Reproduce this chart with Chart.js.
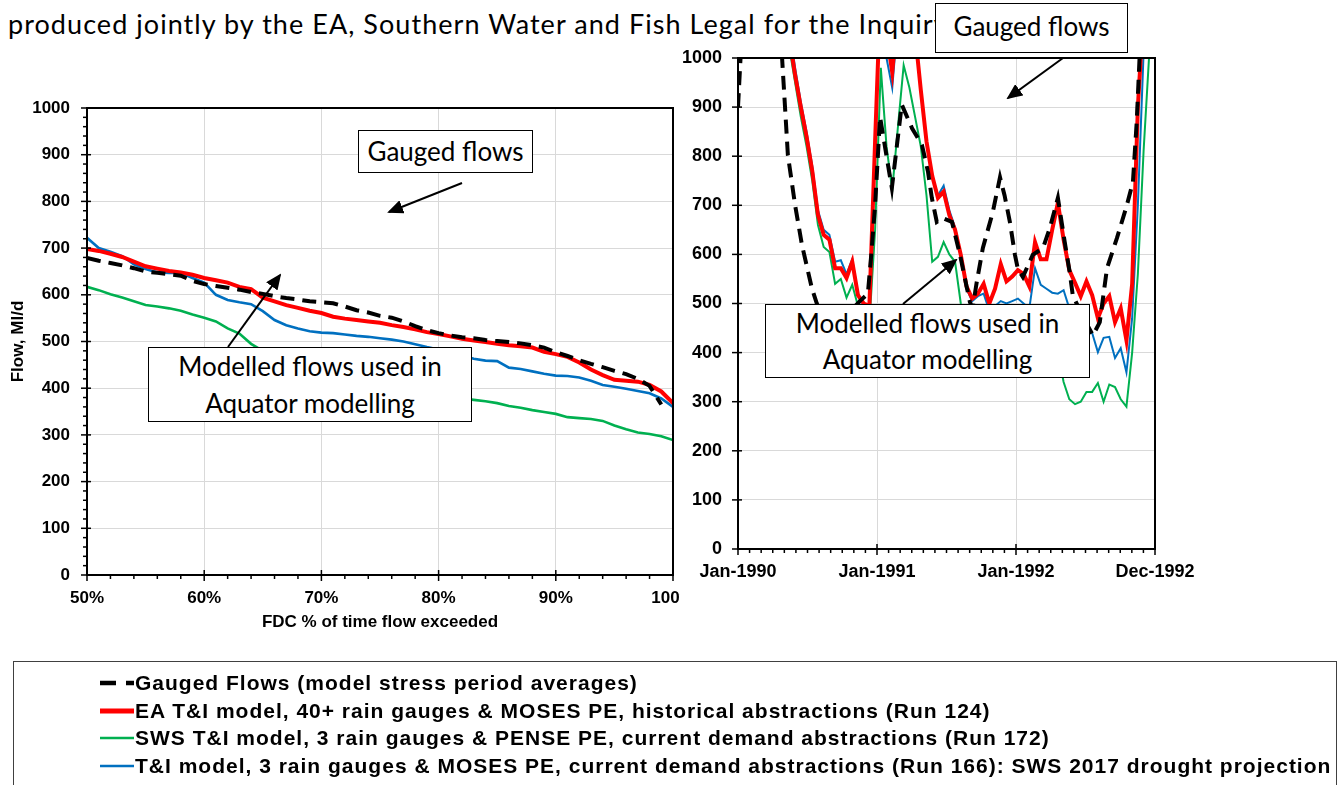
<!DOCTYPE html>
<html>
<head>
<meta charset="utf-8">
<title>Gauged vs modelled flows</title>
<script src="https://cdn.jsdelivr.net/npm/chart.js@4.4.1/dist/chart.umd.min.js"></script>
<style>
  html, body { margin: 0; padding: 0; background: #fff; }
  #page { position: relative; width: 1343px; height: 785px; overflow: hidden; font-family: Lato, "Open Sans", sans-serif; }
  #heading { position: absolute; left: 8px; top: 10px; font-size: 27px; letter-spacing: 1.05px; line-height: 1; white-space: nowrap; color: #000; }
  canvas { position: absolute; top: 0; }
  #fdc-chart { left: 0; }
  #ts-chart { left: 680px; }
  .note { position: absolute; box-sizing: border-box; background: #fff; border: 1.5px solid #000; font-size: 26px; text-align: center; color: #000; white-space: nowrap; }
  #arrows { position: absolute; left: 0; top: 0; pointer-events: none; }
  #legend { position: absolute; left: 13px; top: 661px; width: 1324px; height: 140px; box-sizing: border-box; border: 1px solid #404040; padding-top: 7px; font-family: "Liberation Sans", Arial, sans-serif; font-weight: bold; font-size: 21px; letter-spacing: 1px; }
  .legend-row { display: flex; align-items: center; height: 27.7px; padding-left: 86px; white-space: nowrap; }
  .legend-row svg { flex: none; margin-right: 1px; }
</style>
</head>
<body>
<div id="page">
  <div id="heading">produced jointly by the EA, Southern Water and Fish Legal for the Inquiry</div>
  <canvas id="fdc-chart" width="680" height="650"></canvas>
  <canvas id="ts-chart" width="520" height="650"></canvas>

  <svg id="arrows" width="1343" height="785">
    <defs>
      <marker id="head" markerWidth="8" markerHeight="7" refX="7" refY="3.5" orient="auto" markerUnits="strokeWidth">
        <polygon points="0 0, 8 3.5, 0 7" fill="#000"></polygon>
      </marker>
    </defs>
    <line x1="462" y1="183" x2="389" y2="212" stroke="#000" stroke-width="2" marker-end="url(#head)"></line>
    <line x1="228" y1="347" x2="280" y2="275" stroke="#000" stroke-width="2" marker-end="url(#head)"></line>
    <line x1="1063" y1="58" x2="1008" y2="98" stroke="#000" stroke-width="2" marker-end="url(#head)"></line>
    <line x1="903" y1="304" x2="956" y2="260" stroke="#000" stroke-width="2" marker-end="url(#head)"></line>
  </svg>

  <div class="note" style="left:358px; top:130px; width:175px; height:43px; line-height:40px;">Gauged flows</div>
  <div class="note" style="left:148px; top:347px; width:324px; height:75px; line-height:37px;">Modelled flows used in<br>Aquator modelling</div>
  <div class="note" style="left:935px; top:3px; width:193px; height:50px; line-height:44px;">Gauged flows</div>
  <div class="note" style="left:765px; top:304px; width:325px; height:74px; line-height:36px;">Modelled flows used in<br>Aquator modelling</div>

  <div id="legend"></div>
</div>

<script>
/* global Chart */

// Left: flow duration curve (50-100% exceedance). Right: 1990-92 flows.
// Both share the same four series and one legend box underneath.

const SERIES_LABELS = [
  "Gauged Flows (model stress period averages)",
  "EA T&I model, 40+ rain gauges & MOSES PE, historical abstractions (Run 124)",
  "SWS T&I model, 3 rain gauges & PENSE PE, current demand abstractions (Run 172)",
  "T&I model, 3 rain gauges & MOSES PE, current demand abstractions (Run 166): SWS 2017 drought projection",
];
const SERIES_COLORS = ["#000000", "#ff0000", "#00b050", "#0070c0"];
const SERIES_WIDTHS = [4, 4, 2.2, 2.2];
const GAUGED_DASH = [14, 8];

// --- Flow duration curve ---
const FDC_PERCENT = [
  50, 51, 52, 53, 54, 55, 56, 57, 58, 59,
  60, 61, 62, 63, 64, 65, 66, 67, 68, 69,
  70, 71, 72, 73, 74, 75, 76, 77, 78, 79,
  80, 81, 82, 83, 84, 85, 86, 87, 88, 89,
  90, 91, 92, 93, 94, 95, 96, 97, 98, 99,
  100,
];
const FDC_GAUGED = [
  679, 673, 668, 663, 657, 650, 647, 644, 641, 630,
  623, 619, 615, 611, 606, 602, 597, 593, 590, 586,
  584, 582, 575, 567, 562, 555, 551, 543, 533, 524,
  518, 513, 509, 507, 503, 501, 499, 496, 492, 487,
  477, 469, 460, 452, 445, 437, 430, 420, 405, 365,
  null,
];
const FDC_EA = [
  698, 694, 688, 681, 671, 661, 656, 651, 648, 643,
  636, 631, 626, 617, 612, 594, 586, 578, 572, 566,
  561, 553, 549, 546, 543, 540, 535, 531, 526, 520,
  516, 511, 506, 502, 499, 495, 492, 490, 487, 478,
  473, 467, 455, 440, 428, 418, 416, 414, 407, 393,
  368,
];
const FDC_SWS = [
  617, 610, 601, 594, 586, 578, 575, 571, 566, 558,
  551, 543, 528, 517, 495, 480, 468, 458, 450, 442,
  435, 428, 422, 416, 410, 405, 400, 396, 392, 388,
  384, 381, 378, 375, 372, 368, 362, 358, 353, 349,
  345, 338, 336, 334, 330, 320, 312, 305, 302, 297,
  289,
];
const FDC_TI = [
  722, 700, 692, 683, 665, 655, 648, 647, 647, 636,
  626, 600, 589, 584, 580, 565, 546, 535, 528, 522,
  519, 518, 515, 512, 510, 507, 504, 500, 494, 488,
  483, 477, 470, 463, 459, 458, 444, 441, 436, 431,
  427, 426, 423, 416, 407, 403, 399, 394, 389, 378,
  360,
];

// --- Time series, x in days from 1 Jan 1990 ---
const TS_TICK_LABELS = ["Jan-1990", "Jan-1991", "Jan-1992", "Dec-1992"];
const TS_GAUGED_DAYS = [
  0, 10, 60, 115, 131, 150, 168, 194, 207, 245, 290, 320, 341, 350, 360,
  373, 404, 430, 457, 483, 499, 509, 522, 538, 562, 570, 583, 601, 609,
  616, 627, 643, 669, 688, 700, 714, 727, 735, 748, 774, 801, 819, 840,
  858, 871, 879, 903, 932, 950, 969, 995, 1021, 1037, 1047, 1055, 1070,
];
const TS_GAUGED = [
  900, 1050, 1400, 1010, 802, 700, 619, 531, 500, 430, 480, 505, 520, 600, 700,
  880, 735, 905, 857, 823, 768, 715, 666, 674, 666, 640, 599, 532, 503,
  490, 544, 613, 686, 757, 720, 666, 600, 570, 554, 599, 613, 654, 715,
  625, 564, 517, 477, 435, 462, 572, 633, 700, 747, 870, 1010, 1300,
];
const TS_MODEL_DAYS = [
  0, 15, 30, 45, 60, 75, 90, 105, 120, 135, 150, 165, 180, 195, 210, 225,
  240, 255, 270, 285, 300, 315, 330, 345, 360, 375, 390, 405, 420, 435,
  450, 465, 480, 495, 510, 525, 540, 555, 570, 585, 600, 615, 630, 645,
  660, 675, 690, 705, 720, 735, 750, 765, 780, 795, 810, 825, 840, 855,
  870, 885, 900, 915, 930, 945, 960, 975, 990, 1005, 1020, 1035, 1050,
  1065, 1080, 1095,
];
const TS_EA = [
  1400, 1500, 1600, 1550, 1500, 1450, 1350, 1250, 1150, 1040, 965, 900, 840, 770, 680, 640,
  630, 572, 572, 552, 585, 517, 500, 495, 830, 1150, 1050, 971, 1100, 1200,
  1150, 1050, 935, 830, 760, 715, 728, 680, 650, 599, 535, 510, 520, 540,
  500, 530, 580, 545, 555, 568, 560, 535, 625, 590, 590, 650, 705, 630,
  568, 542, 515, 545, 517, 470, 500, 515, 462, 490, 425, 540, 900,
  1100, 1300, 1500,
];
const TS_SWS = [
  1300, 1400, 1500, 1450, 1400, 1350, 1250, 1150, 1080, 1020, 950, 880, 820, 750, 660, 615,
  605, 540, 550, 512, 538, 495, 470, 460, 650, 980, 820, 731, 860, 985,
  940, 880, 820, 720, 585, 595, 625, 600, 585, 500, 470, 455, 440, 450,
  430, 440, 440, 430, 440, 445, 435, 420, 460, 440, 430, 420, 400, 340,
  305, 295, 300, 320, 320, 338, 300, 335, 330, 305, 290, 400, 560,
  810, 1010, 1200,
];
const TS_TI = [
  1450, 1550, 1650, 1600, 1550, 1500, 1400, 1300, 1180, 1060, 980, 910, 850, 780, 690, 650,
  640, 585, 588, 560, 590, 520, 495, 490, 820, 1150, 1000, 939, 1080, 1200,
  1150, 1050, 935, 830, 760, 720, 740, 690, 655, 600, 530, 505, 515, 520,
  485, 495, 505, 500, 505, 510, 500, 490, 572, 538, 530, 522, 520, 527,
  490, 470, 460, 450, 440, 401, 430, 432, 389, 409, 360, 470, 700,
  1010, 1250, 1450,
];

Chart.defaults.font.family = "'Liberation Sans', Arial, sans-serif";
Chart.defaults.font.weight = "bold";
Chart.defaults.color = "#000";

const GRID_COLOR = "#d9d9d9";

function toPoints(xs, ys) {
  return xs
    .map((x, index) => ({ x, y: ys[index] }))
    .filter((point) => point.y !== null);
}

function makeDatasets(xsGauged, gauged, xsModel, ea, sws, ti, thinWidth) {
  // index 0 is drawn on top
  const series = [
    { data: toPoints(xsGauged, gauged), idx: 0 },
    { data: toPoints(xsModel, ea), idx: 1 },
    { data: toPoints(xsModel, ti), idx: 3 },
    { data: toPoints(xsModel, sws), idx: 2 },
  ];
  return series.map(({ data, idx }) => ({
    label: SERIES_LABELS[idx],
    data,
    borderColor: SERIES_COLORS[idx],
    borderWidth: idx < 2 ? SERIES_WIDTHS[idx] : thinWidth,
    borderDash: idx === 0 ? GAUGED_DASH : [],
    borderCapStyle: "butt",
    pointRadius: 0,
    tension: 0,
    fill: false,
    clip: 0,
  }));
}

// Pin an axis to a fixed thickness and drop the label overhang padding so
// the plot area lands where the original one was.
function fixedSize(size) {
  return (scale) => {
    if (scale.isHorizontal()) {
      scale.height = size;
    } else {
      scale.width = size;
    }
    scale.paddingLeft = 0;
    scale.paddingRight = 0;
    scale.paddingTop = 0;
    scale.paddingBottom = 0;
  };
}

// Excel-style tick marks (major crossing the axis, minor outside) and the
// plot-area frame.
const tickMarks = {
  id: "tickMarks",
  afterDatasetsDraw(chart, args, opts) {
    const { ctx, chartArea: area } = chart;
    const xScale = chart.scales.x;
    const yScale = chart.scales.y;

    ctx.save();
    ctx.strokeStyle = "#000";
    ctx.lineWidth = 1.5;

    for (let k = 0; k <= opts.xCount; k++) {
      const px = xScale.getPixelForValue(opts.xStart + k * opts.xStep);
      const major = k % opts.xMajorEvery === 0;
      ctx.beginPath();
      ctx.moveTo(px, area.bottom - (major ? 5 : 0));
      ctx.lineTo(px, area.bottom + (major ? 6 : 4));
      ctx.stroke();
    }

    for (let k = 0; k <= opts.yCount; k++) {
      const py = yScale.getPixelForValue(k * opts.yStep);
      const major = k % opts.yMajorEvery === 0;
      ctx.beginPath();
      ctx.moveTo(area.left - (major ? 6 : 4), py);
      ctx.lineTo(area.left + (major ? 4 : 0), py);
      ctx.stroke();
    }

    ctx.lineWidth = 2;
    ctx.strokeRect(area.left, area.top, area.right - area.left, area.bottom - area.top);
    ctx.restore();
  },
};

function renderFdcChart() {
  const canvas = document.getElementById("fdc-chart");

  new Chart(canvas, {
    type: "line",
    data: {
      datasets: makeDatasets(FDC_PERCENT, FDC_GAUGED, FDC_PERCENT, FDC_EA, FDC_SWS, FDC_TI, 2.6),
    },
    plugins: [tickMarks],
    options: {
      responsive: false,
      animation: false,
      layout: { autoPadding: false, padding: { top: 108, right: 7, left: 0, bottom: 0 } },
      scales: {
        x: {
          type: "linear",
          min: 50,
          max: 100,
          afterFit: fixedSize(75),
          grid: { color: GRID_COLOR, drawTicks: false },
          border: { display: false },
          ticks: {
            stepSize: 10,
            padding: 13,
            maxRotation: 0,
            autoSkip: false,
            font: { size: 17 },
            callback: (value) => `${value}%`,
          },
          title: {
            display: true,
            text: "FDC % of time flow exceeded",
            font: { size: 17 },
            padding: { top: 0, bottom: 17 },
          },
        },
        y: {
          min: 0,
          max: 1000,
          afterFit: fixedSize(87),
          grid: { color: GRID_COLOR, drawTicks: false },
          border: { display: false },
          ticks: { stepSize: 100, padding: 17, font: { size: 17 }, callback: (value) => String(value) },
          title: {
            display: true,
            text: "Flow, Ml/d",
            font: { size: 17 },
            padding: { top: 8, bottom: 0 },
          },
        },
      },
      plugins: {
        legend: { display: false },
        tooltip: { enabled: false },
        tickMarks: { xStart: 50, xStep: 2, xCount: 25, xMajorEvery: 5, yStep: 20, yCount: 50, yMajorEvery: 5 },
      },
    },
  });
}

function renderTimeSeriesChart() {
  const canvas = document.getElementById("ts-chart");

  new Chart(canvas, {
    type: "line",
    data: {
      datasets: makeDatasets(TS_GAUGED_DAYS, TS_GAUGED, TS_MODEL_DAYS, TS_EA, TS_SWS, TS_TI, 2),
    },
    plugins: [tickMarks],
    options: {
      responsive: false,
      animation: false,
      layout: { autoPadding: false, padding: { top: 58, right: 45, left: 0, bottom: 0 } },
      scales: {
        x: {
          type: "linear",
          min: 0,
          max: 1095,
          afterFit: fixedSize(101),
          grid: { color: GRID_COLOR, drawTicks: false },
          border: { display: false },
          ticks: {
            stepSize: 365,
            padding: 12,
            maxRotation: 0,
            autoSkip: false,
            font: { size: 18 },
            callback: (value) => TS_TICK_LABELS[Math.round(value / 365)],
          },
        },
        y: {
          min: 0,
          max: 1000,
          afterFit: fixedSize(58),
          grid: { color: GRID_COLOR, drawTicks: false },
          border: { display: false },
          ticks: { stepSize: 100, padding: 16, font: { size: 18 }, callback: (value) => String(value) },
        },
      },
      plugins: {
        legend: { display: false },
        tooltip: { enabled: false },
        tickMarks: { xStart: 0, xStep: 365 / 12, xCount: 36, xMajorEvery: 12, yStep: 100, yCount: 10, yMajorEvery: 1 },
      },
    },
  });
}

function renderLegend() {
  const legend = document.getElementById("legend");
  const svgNs = "http://www.w3.org/2000/svg";
  const sampleWidths = [4.5, 5, 2.5, 2.5];

  SERIES_LABELS.forEach((label, idx) => {
    const row = document.createElement("div");
    row.className = "legend-row";

    const svg = document.createElementNS(svgNs, "svg");
    svg.setAttribute("width", "34");
    svg.setAttribute("height", "10");
    const line = document.createElementNS(svgNs, "line");
    line.setAttribute("x1", "0");
    line.setAttribute("y1", "5");
    line.setAttribute("x2", "34");
    line.setAttribute("y2", "5");
    line.setAttribute("stroke", SERIES_COLORS[idx]);
    line.setAttribute("stroke-width", String(sampleWidths[idx]));
    if (idx === 0) {
      line.setAttribute("stroke-dasharray", "16 10");
    }
    svg.appendChild(line);

    const text = document.createElement("span");
    text.textContent = label;

    row.appendChild(svg);
    row.appendChild(text);
    legend.appendChild(row);
  });
}

renderFdcChart();
renderTimeSeriesChart();
renderLegend();
</script>
</body>
</html>
